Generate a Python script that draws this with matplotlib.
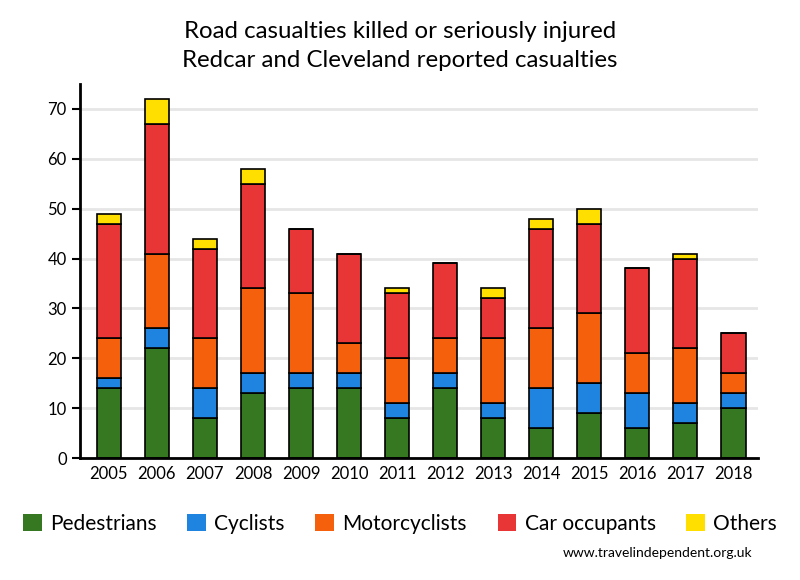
import matplotlib.pyplot as plt
import numpy as np

plt.rcParams['font.family'] = ['Lato', 'DejaVu Sans']

years = [2005, 2006, 2007, 2008, 2009, 2010, 2011, 2012, 2013, 2014, 2015, 2016, 2017, 2018]
pedestrians = [14, 22, 8, 13, 14, 14, 8, 14, 8, 6, 9, 6, 7, 10]
cyclists = [2, 4, 6, 4, 3, 3, 3, 3, 3, 8, 6, 7, 4, 3]
motorcyclists = [8, 15, 10, 17, 16, 6, 9, 7, 13, 12, 14, 8, 11, 4]
car_occupants = [23, 26, 18, 21, 13, 18, 13, 15, 8, 20, 18, 17, 18, 8]
others = [2, 5, 2, 3, 0, 0, 1, 0, 2, 2, 3, 0, 1, 0]

series = [
    ("Pedestrians", pedestrians, "#367821"),
    ("Cyclists", cyclists, "#1e84e0"),
    ("Motorcyclists", motorcyclists, "#f5600c"),
    ("Car occupants", car_occupants, "#e83535"),
    ("Others", others, "#ffdf00"),
]

fig = plt.figure(figsize=(8, 5.8), dpi=100)
ax = fig.add_axes([0.1, 0.2103, 0.8475, 0.645])

x = np.arange(len(years))
bottom = np.zeros(len(years))
handles = []
for name, vals, color in series:
    vals = np.array(vals, dtype=float)
    h = ax.bar(x, vals, width=0.5, bottom=bottom, color=color,
               edgecolor="black", linewidth=1.2, label=name, zorder=3)
    handles.append(h)
    bottom += vals

ax.set_xlim(-0.6, 13.51)
ax.set_ylim(0, 75)
ax.set_yticks(range(0, 71, 10))
ax.set_xticks(x)
ax.set_xticklabels([str(y) for y in years])
ax.tick_params(axis='x', length=0, labelsize=12, pad=6)
ax.tick_params(axis='y', length=6, width=1.5, labelsize=12, direction='out')
ax.grid(axis='y', color='#e6e6e6', linewidth=2, zorder=0)
ax.set_axisbelow(True)
for s in ['top', 'right']:
    ax.spines[s].set_visible(False)
for s in ['left', 'bottom']:
    ax.spines[s].set_linewidth(2)
    ax.spines[s].set_zorder(4)

fig.text(0.5, 0.946, "Road casualties killed or seriously injured",
         ha='center', va='center', fontsize=17.3)
fig.text(0.5, 0.895, "Redcar and Cleveland reported casualties",
         ha='center', va='center', fontsize=17.3)

leg = fig.legend(handles=handles, loc='center', bbox_to_anchor=(0.5, 0.097),
                 ncol=5, frameon=False, fontsize=15, handlelength=0.9,
                 handleheight=0.9, handletextpad=0.4, columnspacing=1.47)
for p in leg.get_patches():
    p.set_edgecolor('none')

fig.text(0.94, 0.046, "www.travelindependent.org.uk", ha='right', va='center',
         fontsize=10)

fig.savefig("out.png", dpi=100)
